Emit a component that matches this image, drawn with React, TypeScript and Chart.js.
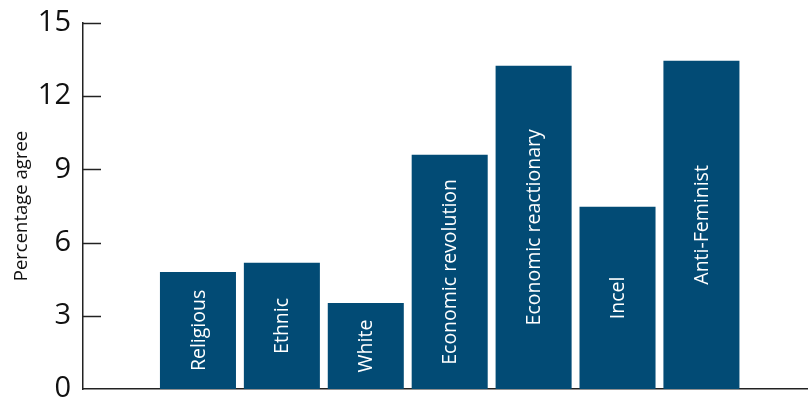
import React, { useEffect, useRef } from "react";
import { Chart, registerables } from "chart.js";

Chart.register(...registerables);

const categories = [
  "Religious",
  "Ethnic",
  "White",
  "Economic revolution",
  "Economic reactionary",
  "Incel",
  "Anti-Feminist",
];
const values = [4.8, 5.17, 3.52, 9.6, 13.25, 7.47, 13.45];
const yTicks = [0, 3, 6, 9, 12, 15];
const positions = [1, 2, 3, 4, 5, 6, 7];

const FONT = "'Open Sans', 'Noto Sans', sans-serif";
const BAR_COLOR = "#024b75";

const barLabelPlugin = {
  id: "barLabels",
  afterDatasetsDraw(chart: any) {
    const ctx = chart.ctx;
    const meta = chart.getDatasetMeta(0);
    ctx.save();
    ctx.fillStyle = "#ffffff";
    ctx.font = `19.5px ${FONT}`;
    ctx.textAlign = "center";
    ctx.textBaseline = "middle";
    meta.data.forEach((bar: any, i: number) => {
      const cy = (bar.y + bar.base) / 2;
      ctx.save();
      ctx.translate(bar.x, cy);
      ctx.rotate(-Math.PI / 2);
      ctx.fillText(categories[i], 0, 1);
      ctx.restore();
    });
    ctx.restore();
  },
};

const innerTicksPlugin = {
  id: "innerTicks",
  afterDraw(chart: any) {
    const ctx = chart.ctx;
    const y = chart.scales.y;
    const left = chart.chartArea.left;
    ctx.save();
    ctx.strokeStyle = "#222222";
    ctx.lineWidth = 1.5;
    yTicks.forEach((t) => {
      if (t === 0) return;
      const py = Math.round(y.getPixelForValue(t)) + 0.5;
      ctx.beginPath();
      ctx.moveTo(left, py);
      ctx.lineTo(left + 18, py);
      ctx.stroke();
    });
    ctx.restore();
  },
};

export default function App() {
  const ref = useRef<HTMLCanvasElement | null>(null);
  useEffect(() => {
    if (!ref.current) return;
    const chart = new Chart(ref.current, {
      type: "bar",
      data: {
        datasets: [
          {
            data: positions.map((p, i) => ({ x: p, y: values[i] })),
            backgroundColor: BAR_COLOR,
            categoryPercentage: 1,
            barPercentage: 0.906,
          },
        ],
      },
      options: {
        animation: false,
        responsive: false,
        devicePixelRatio: 1,
        layout: { padding: { top: 23, right: 0, left: 0, bottom: 0 } },
        plugins: { legend: { display: false }, tooltip: { enabled: false } },
        scales: {
          x: {
            type: "linear",
            offset: false,
            min: -0.37,
            max: 8.27,
            grid: { display: false, drawTicks: false },
            border: { display: true, color: "#222222", width: 1.5 },
            ticks: { display: false },
            afterFit: (s: any) => {
              s.height = 12;
              s.paddingLeft = 0;
              s.paddingRight = 0;
            },
          },
          y: {
            min: 0,
            max: 15,
            afterBuildTicks: (s: any) => {
              s.ticks = yTicks.map((v) => ({ value: v }));
            },
            grid: { display: false, drawTicks: false },
            border: { display: true, color: "#222222", width: 1.5 },
            ticks: {
              color: "#111111",
              font: { family: FONT, size: 29 },
              padding: 12,
            },
            title: {
              display: true,
              text: "Percentage agree",
              color: "#111111",
              font: { family: FONT, size: 18.5 },
              padding: { top: 11, bottom: 0 },
            },
            afterFit: (s: any) => {
              s.width = 83;
              s.paddingTop = 0;
              s.paddingBottom = 0;
            },
          },
        },
      },
      plugins: [barLabelPlugin, innerTicksPlugin],
    });
    return () => chart.destroy();
  }, []);
  return (
    <div
      style={{
        position: "fixed",
        left: 0,
        top: 0,
        width: 808,
        height: 401,
        overflow: "hidden",
        background: "#ffffff",
      }}
    >
      <canvas ref={ref} width={808} height={401} style={{ width: 808, height: 401 }} />
    </div>
  );
}
